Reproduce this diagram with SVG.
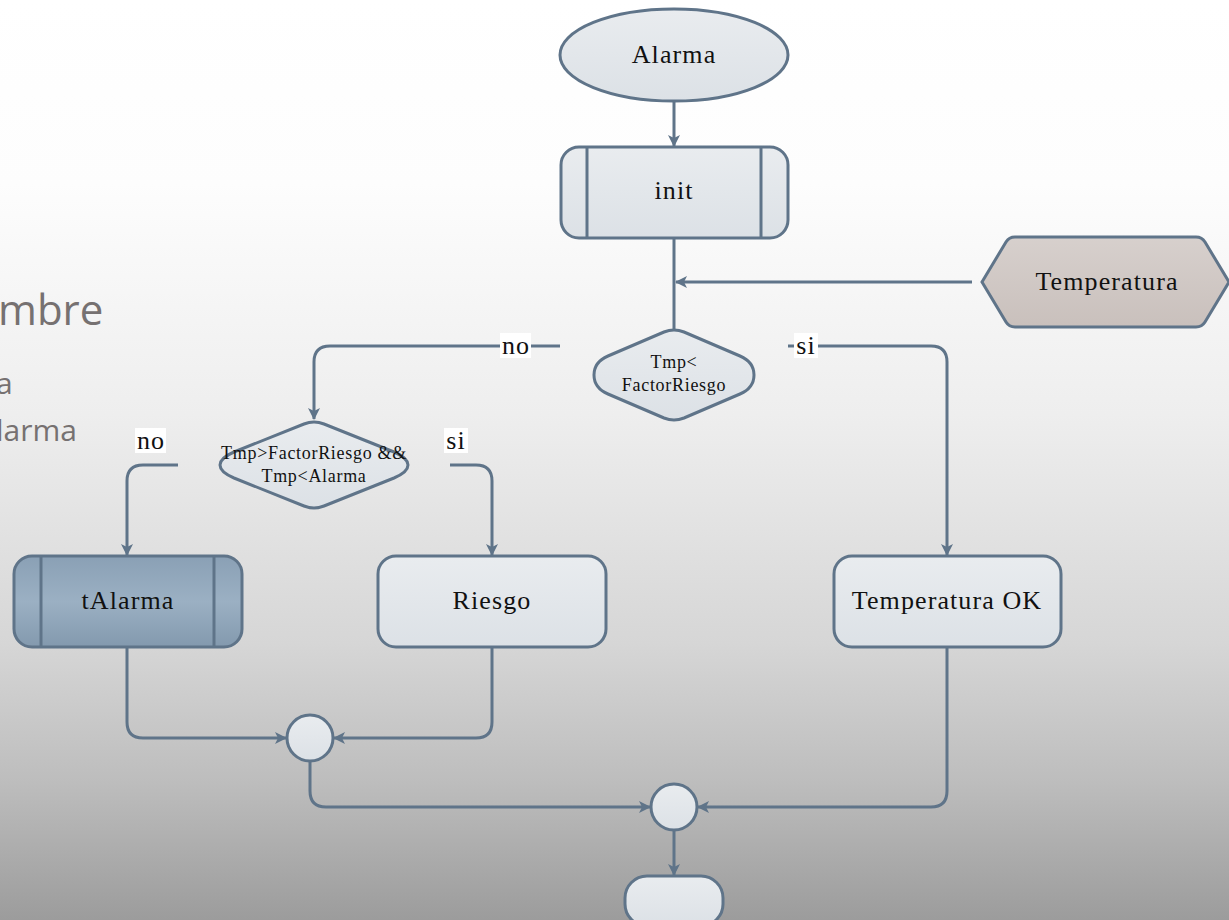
<svg xmlns="http://www.w3.org/2000/svg" width="1229" height="920" viewBox="0 0 1229 920">
  <defs>
    <linearGradient id="bg" x1="0" y1="0" x2="0" y2="1">
      <stop offset="0" stop-color="#ffffff"/>
      <stop offset="0.2" stop-color="#fdfdfd"/>
      <stop offset="0.45" stop-color="#eeeeee"/>
      <stop offset="0.7" stop-color="#d6d6d6"/>
      <stop offset="0.85" stop-color="#bdbdbd"/>
      <stop offset="1" stop-color="#9c9c9c"/>
    </linearGradient>
    <linearGradient id="nodeFill" x1="0" y1="0" x2="0" y2="1">
      <stop offset="0" stop-color="#e9ecef"/>
      <stop offset="1" stop-color="#dce1e6"/>
    </linearGradient>
    <linearGradient id="darkFill" x1="0" y1="0" x2="0" y2="1">
      <stop offset="0" stop-color="#8aa0b5"/>
      <stop offset="0.5" stop-color="#9bb0c3"/>
      <stop offset="1" stop-color="#8399ae"/>
    </linearGradient>
    <linearGradient id="warmFill" x1="0" y1="0" x2="0" y2="1">
      <stop offset="0" stop-color="#d7d0cd"/>
      <stop offset="1" stop-color="#c9c0bc"/>
    </linearGradient>
    <marker id="arrow" viewBox="0 0 12 12" refX="11" refY="6" markerWidth="12" markerHeight="12" markerUnits="userSpaceOnUse" orient="auto">
      <path d="M0,0 L12,6 L0,12 L3,6 Z" fill="#5f7489"/>
    </marker>
    <style>
      .shape { stroke: #5f7489; stroke-width: 3; fill: url(#nodeFill); }
      .dark { fill: url(#darkFill); }
      .warm { fill: url(#warmFill); }
      .inner { stroke: #5f7489; stroke-width: 3; fill: none; }
      .conn { stroke: #5f7489; stroke-width: 3; fill: none; marker-end: url(#arrow); }
      .line { stroke: #5f7489; stroke-width: 3; fill: none; }
      .lbl { font-family: "Liberation Serif", "DejaVu Serif", serif; fill: #111111; text-anchor: middle; }
      .big { font-size: 26px; letter-spacing: 1.1px; }
      .small { font-size: 18px; letter-spacing: 0.7px; }
      .side { font-family: "Open Sans", "Liberation Sans", sans-serif; fill: #767171; }
      .tagbg { fill: #ffffff; }
    </style>
  </defs>

  <!-- backdrop -->
  <rect x="0" y="0" width="1229" height="920" fill="url(#bg)"/>

  <!-- slide text running in from the left edge -->
  <text class="side" x="-2" y="325" font-size="42">mbre</text>
  <text class="side" x="-4" y="394" font-size="30">a</text>
  <text class="side" x="-4" y="441" font-size="30">larma</text>

  <!-- connectors -->
  <g id="connectors">
    <path class="conn" d="M674,101 L674,146"/>
    <path class="line" d="M674,238 L674,329"/>
    <path class="conn" d="M972,282 L676,282"/>
    <path class="conn" d="M560,346 L330,346 Q314,346 314,362 L314,419"/>
    <path class="conn" d="M788,346 L931,346 Q947,346 947,362 L947,555"/>
    <path class="conn" d="M178,465 L143,465 Q127,465 127,481 L127,555"/>
    <path class="conn" d="M450,465 L476,465 Q492,465 492,481 L492,555"/>
    <path class="conn" d="M127,647 L127,722 Q127,738 143,738 L286,738"/>
    <path class="conn" d="M492,647 L492,722 Q492,738 476,738 L334,738"/>
    <path class="conn" d="M310,761 L310,791 Q310,807 326,807 L650,807"/>
    <path class="conn" d="M947,647 L947,791 Q947,807 931,807 L698,807"/>
    <path class="conn" d="M674,830 L674,875"/>
  </g>

  <!-- branch labels -->
  <g id="labels">
    <rect class="tagbg" x="500" y="333" width="31" height="25"/>
    <text class="lbl big" x="516" y="354">no</text>
    <rect class="tagbg" x="794" y="333" width="24" height="25"/>
    <text class="lbl big" x="806" y="354">si</text>
    <rect class="tagbg" x="135" y="428" width="31" height="25"/>
    <text class="lbl big" x="151" y="449">no</text>
    <rect class="tagbg" x="444" y="428" width="24" height="25"/>
    <text class="lbl big" x="456" y="449">si</text>
  </g>

  <g id="alarma">
    <ellipse class="shape" cx="674" cy="55" rx="114" ry="46"/>
    <text class="lbl big" x="674" y="63">Alarma</text>
  </g>

  <g id="init">
    <rect class="shape" x="561" y="147" width="227" height="91" rx="18"/>
    <line class="inner" x1="587" y1="147" x2="587" y2="238"/>
    <line class="inner" x1="761" y1="147" x2="761" y2="238"/>
    <text class="lbl big" x="674" y="199">init</text>
  </g>

  <g id="temperatura">
    <path class="shape warm" d="M982,282 L1006,242 Q1009,237 1015,237 L1196,237 Q1202,237 1205,242 L1229,282 L1205,322 Q1202,327 1196,327 L1015,327 Q1009,327 1006,322 Z"/>
    <text class="lbl big" x="1107" y="290">Temperatura</text>
  </g>

  <g id="cond1">
    <path class="shape" d="M664,332 Q674,328 684,332 L740,356 Q754,362 754,375 Q754,388 740,394 L684,418 Q674,422 664,418 L608,394 Q594,388 594,375 Q594,362 608,356 Z"/>
    <text class="lbl small" x="674" y="368">Tmp&lt;</text>
    <text class="lbl small" x="674" y="391">FactorRiesgo</text>
  </g>

  <g id="cond2">
    <path class="shape" d="M304,424 Q314,420 324,424 L394,452 Q408,458 408,465 Q408,472 394,478 L324,506 Q314,510 304,506 L234,478 Q220,472 220,465 Q220,458 234,452 Z"/>
    <text class="lbl small" x="314" y="459">Tmp&gt;FactorRiesgo &amp;&amp;</text>
    <text class="lbl small" x="314" y="482">Tmp&lt;Alarma</text>
  </g>

  <g id="talarma">
    <rect class="shape dark" x="14" y="556" width="228" height="91" rx="18"/>
    <line class="inner" x1="41" y1="556" x2="41" y2="647"/>
    <line class="inner" x1="214" y1="556" x2="214" y2="647"/>
    <text class="lbl big" x="128" y="609">tAlarma</text>
  </g>

  <g id="riesgo">
    <rect class="shape" x="378" y="556" width="228" height="91" rx="18"/>
    <text class="lbl big" x="492" y="609">Riesgo</text>
  </g>

  <g id="temperatura-ok">
    <rect class="shape" x="834" y="556" width="227" height="91" rx="18"/>
    <text class="lbl big" x="947" y="609">Temperatura OK</text>
  </g>

  <g id="join1">
    <circle class="shape" cx="310" cy="738" r="23"/>
  </g>

  <g id="join2">
    <circle class="shape" cx="674" cy="807" r="23"/>
  </g>

  <g id="end">
    <rect class="shape" x="625" y="876" width="98" height="50" rx="22"/>
  </g>
</svg>
